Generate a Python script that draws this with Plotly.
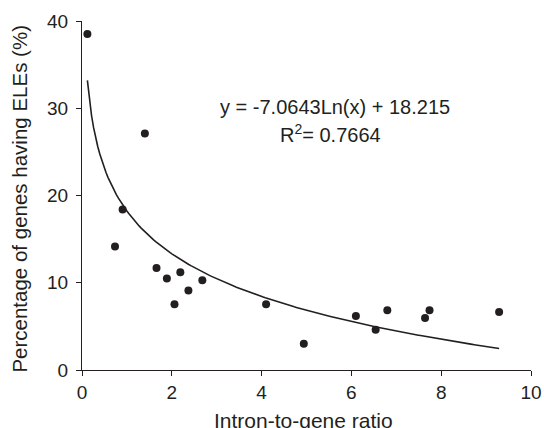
import numpy as np
import plotly.graph_objects as go

# Data
intron_ratio = [0.12, 1.40, 0.905, 0.735, 1.66, 1.89, 2.19, 2.37, 2.06, 2.68,
                4.10, 4.94, 6.10, 6.54, 6.80, 7.64, 7.74, 9.29]
pct_eles = [38.5, 27.1, 18.4, 14.15, 11.7, 10.5, 11.2, 9.1, 7.55, 10.3,
            7.55, 3.0, 6.2, 4.6, 6.86, 5.95, 6.86, 6.64]

# Logarithmic trendline reported on the chart
coef_a = -7.0643
coef_b = 18.215
r_squared = 0.7664

x_fit = np.linspace(min(intron_ratio), max(intron_ratio), 200)
y_fit = coef_a * np.log(x_fit) + coef_b

font_fam = "Arial, Liberation Sans, Helvetica, sans-serif"
ink = "#231f20"

fig = go.Figure()
fig.add_trace(go.Scatter(x=x_fit, y=y_fit, mode="lines",
                         line=dict(color=ink, width=1.6), hoverinfo="skip",
                         showlegend=False))
fig.add_trace(go.Scatter(x=intron_ratio, y=pct_eles, mode="markers",
                         marker=dict(color=ink, size=8), showlegend=False))

fig.add_annotation(x=5.63, y=30.1, xref="x", yref="y", showarrow=False,
                   text=f"y = {coef_a}Ln(x) + {coef_b}",
                   font=dict(family=font_fam, size=20, color=ink))
fig.add_annotation(x=5.54, y=27.1, xref="x", yref="y", showarrow=False,
                   text=f"R<sup>2</sup>= {r_squared}",
                   font=dict(family=font_fam, size=20, color=ink))

# Axis titles
fig.add_annotation(x=0.494, y=-0.1435, xref="paper", yref="paper", showarrow=False,
                   xanchor="center", yanchor="middle",
                   text="Intron-to-gene ratio",
                   font=dict(family=font_fam, size=21, color=ink))
fig.add_annotation(x=-0.139, y=0.49, xref="paper", yref="paper", showarrow=False,
                   xanchor="center", yanchor="middle", textangle=-90,
                   text="Percentage of genes having ELEs (%)",
                   font=dict(family=font_fam, size=20.5, color=ink))

axis_common = dict(showgrid=False, zeroline=False, showline=True,
                   linecolor=ink, linewidth=1.2, ticks="outside", ticklen=5,
                   tickwidth=1.2, tickcolor=ink, automargin=False,
                   tickfont=dict(family=font_fam, size=19, color=ink))

fig.update_xaxes(range=[0, 10], tickvals=[0, 2, 4, 6, 8, 10], **axis_common)
fig.update_yaxes(range=[0, 40], tickvals=[0, 10, 20, 30, 40],
                 ticklabelstandoff=4, **axis_common)

fig.update_layout(width=544, height=428,
                  margin=dict(l=82, r=13, t=21, b=58),
                  paper_bgcolor="white", plot_bgcolor="white")

fig.write_html("out.html", config={"displayModeBar": False},
               post_script="document.body.style.margin='0';document.body.style.overflow='hidden';")
